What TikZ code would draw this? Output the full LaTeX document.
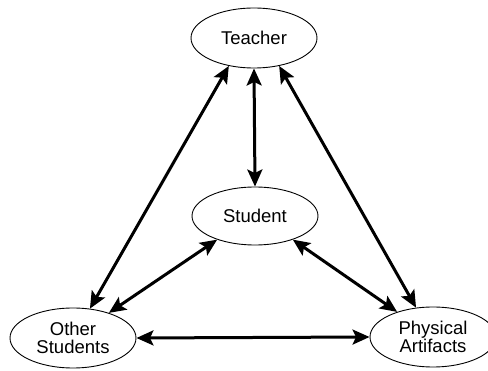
\documentclass[tikz,border=0pt]{standalone}
\usepackage{fontspec}
\setmainfont{Liberation Sans}
\usetikzlibrary{shapes.geometric,arrows.meta}
\begin{document}
\begin{tikzpicture}[x=1pt,y=-1pt,
  ell/.style={ellipse,draw,line width=0.9pt,minimum width=126pt,minimum height=60pt,inner sep=0pt,align=center,font=\fontsize{18.5}{18.5}\selectfont},
  link/.style={line width=3pt,{Stealth[length=17pt,width=15pt,inset=3.5pt]}-{Stealth[length=17pt,width=15pt,inset=3.5pt]}}]
\useasboundingbox (0,0) rectangle (488,371);
\clip (0,0) rectangle (488,371);
\node[ell] (T) at (254,38) {Teacher};
\node[ell,minimum height=58pt] (S) at (255,216) {Student};
\node[ell] (O) at (73,338) {Other\\Students};
\node[ell] (P) at (433,337) {Physical\\Artifacts};
\draw[link] (T.south) -- (S.north);
\draw[link] (T.228) -- (O.60);
\draw[link] (T.312) -- (P.120);
\draw[link] (S.212) -- (O.35);
\draw[link] (S.328) -- (P.145);
\draw[link] (O.east) -- (P.west);
\end{tikzpicture}
\end{document}
